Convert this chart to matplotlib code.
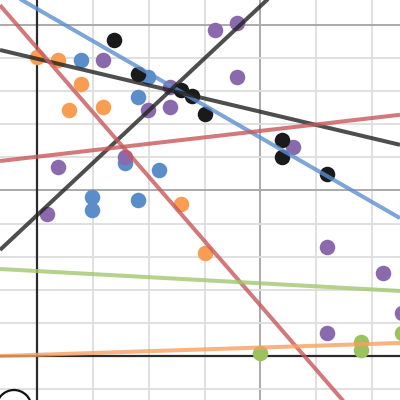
import matplotlib
matplotlib.use('Agg')
import matplotlib.pyplot as plt
from matplotlib.patches import Ellipse
import numpy as np

# scatter groups (x, y)
orange_x = [0.0, 0.19, 0.39, 0.29, 0.59, 1.29, 1.50]
orange_y = [9.03, 8.94, 8.22, 7.43, 7.52, 4.59, 3.11]

blue_x = [0.39, 0.99, 0.90, 0.79, 1.09, 0.49, 0.49, 0.90]
blue_y = [8.94, 8.43, 7.82, 5.83, 5.62, 4.80, 4.41, 4.71]

purple_x = [0.59, 1.59, 1.79, 1.79, 1.19, 0.99, 1.19, 0.79, 0.19, 0.09, 2.29, 2.60, 3.10, 3.27, 2.60]
purple_y = [8.94, 9.85, 10.06, 8.43, 8.13, 7.43, 7.52, 6.01, 5.71, 4.29, 6.31, 3.29, 2.51, 1.30, 0.69]

black_x = [0.69, 0.90, 1.29, 1.39, 1.50, 2.19, 2.19, 2.60]
black_y = [9.55, 8.52, 8.04, 7.85, 7.31, 6.53, 6.01, 5.50]

green_x = [2.00, 2.90, 2.90, 3.27]
green_y = [0.09, 0.42, 0.18, 0.69]

# fitted lines: slope, intercept
line_slopes = [-1.946, -0.80, 3.16, -3.89, 0.39, -0.185, 0.11]
line_icepts = [10.49, 8.98, 4.25, 9.31, 6.02, 2.567, 0.036]
line_colors = ['#5b8fcf', '#222222', '#222222', '#c8585a', '#c8585a', '#a3c76f', '#f8a062']

xmin, xmax = -0.331, 3.25
ymin, ymax = -1.329, 10.755

fig = plt.figure(figsize=(4, 4), dpi=100)
ax = fig.add_axes([0, 0, 1, 1])
ax.set_xlim(xmin, xmax)
ax.set_ylim(ymin, ymax)
ax.axis('off')

# grid
for gx in np.arange(-0.5, 3.5, 0.5):
	major = abs(gx % 2) < 1e-9
	ax.axvline(gx, color='#aaaaaa' if major else '#dddddd', lw=1.4 if major else 1.3, zorder=0)
for gy in range(-1, 11):
	major = gy % 5 == 0
	ax.axhline(gy, color='#aaaaaa' if major else '#dddddd', lw=1.4 if major else 1.3, zorder=0)
ax.axvline(0, color='#2b2b2b', lw=1.6, zorder=1)
ax.axhline(0, color='#2b2b2b', lw=1.6, zorder=1)

ax.scatter(orange_x, orange_y, s=125, color='#f99d52', lw=0, zorder=3)
ax.scatter(blue_x, blue_y, s=125, color='#5a8dc9', lw=0, zorder=3)
ax.scatter(purple_x, purple_y, s=125, color='#8a6aac', lw=0, zorder=3)
ax.scatter(black_x, black_y, s=125, color='#1a1a1a', lw=0, zorder=3)
ax.scatter(green_x, green_y, s=125, color='#9cc25e', lw=0, zorder=3)

xs = np.array([xmin, xmax])
for m, b, c in zip(line_slopes, line_icepts, line_colors):
	ax.plot(xs, m * xs + b, color=c, lw=2.9, alpha=0.8, zorder=4, solid_capstyle='butt')

# partial curve at bottom-left
ax.add_patch(Ellipse((-0.206, -1.556), 0.313, 1.057, fill=False, ec='#111111', lw=1.6, zorder=5))

fig.savefig('out.png', dpi=100)
